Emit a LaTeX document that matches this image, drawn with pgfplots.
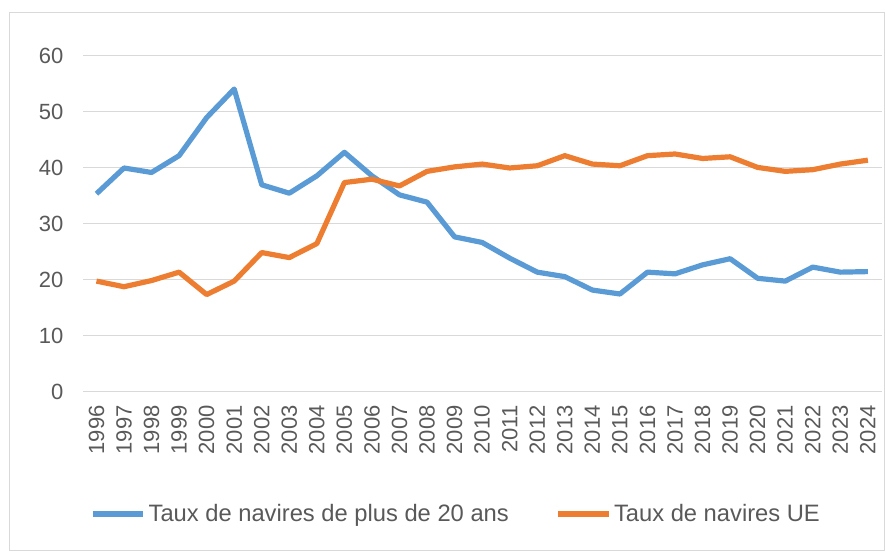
\documentclass[border=0pt]{standalone}
\usepackage{fontspec}
\setmainfont{Liberation Sans}
\usepackage{pgfplots}
\pgfplotsset{compat=1.18}
\definecolor{cblue}{HTML}{5B9BD5}
\definecolor{corange}{HTML}{ED7D31}
\definecolor{cgrid}{HTML}{D9D9D9}
\definecolor{ctext}{HTML}{595959}
\begin{document}
\begin{tikzpicture}
\path[use as bounding box] (0,0) rectangle (663.75pt,414pt);
\draw[cgrid, line width=0.75pt] (6.75pt,0.75pt) rectangle (663pt,404.25pt);
\begin{axis}[
  at={(62pt,120pt)}, anchor=south west,
  scale only axis, width=599.25pt, height=252pt,
  xmin=1995.5, xmax=2024.5, ymin=0, ymax=60,
  xtick={1996,...,2024}, ytick={0,10,...,60},
  ymajorgrids, grid style={cgrid, line width=0.75pt},
  axis line style={draw=none}, major tick length=0pt,
  tick label style={font=\fontsize{16.5}{19}\selectfont, text=ctext},
  /pgf/number format/assume math mode=true,
  /pgf/number format/1000 sep={},
  yticklabel style={xshift=-11pt},
  xticklabel style={yshift=-6.5pt, rotate=90, anchor=east},
  legend columns=2,
  legend style={at={(axis description cs:0.009,-0.363)}, anchor=west, draw=none, fill=none, inner sep=0pt,
    font=\fontsize{17.8}{20}\selectfont, text=ctext,
    /tikz/every even column/.append style={column sep=33pt}},
  legend image code/.code={\draw[#1] (0pt,0pt) -- (38pt,0pt);},
]
\addplot[cblue, line width=3.9pt, line join=round] coordinates {
(1996,35.4) (1997,40.0) (1998,39.2) (1999,42.2) (2000,49.0) (2001,54.1) (2002,37.0) (2003,35.5) (2004,38.6) (2005,42.8)
(2006,38.6) (2007,35.2) (2008,33.9) (2009,27.7) (2010,26.7) (2011,23.9) (2012,21.4) (2013,20.6) (2014,18.2) (2015,17.5)
(2016,21.4) (2017,21.1) (2018,22.7) (2019,23.8) (2020,20.3) (2021,19.8) (2022,22.3) (2023,21.4) (2024,21.5)};
\addlegendentry{Taux de navires de plus de 20 ans}
\addplot[corange, line width=3.9pt, line join=round] coordinates {
(1996,19.8) (1997,18.8) (1998,19.9) (1999,21.4) (2000,17.4) (2001,19.8) (2002,24.9) (2003,24.0) (2004,26.5) (2005,37.4)
(2006,38.0) (2007,36.8) (2008,39.4) (2009,40.2) (2010,40.7) (2011,40.0) (2012,40.4) (2013,42.2) (2014,40.7) (2015,40.4)
(2016,42.2) (2017,42.5) (2018,41.7) (2019,42.0) (2020,40.1) (2021,39.4) (2022,39.7) (2023,40.7) (2024,41.4)};
\addlegendentry{Taux de navires UE}
\end{axis}
\end{tikzpicture}
\end{document}
